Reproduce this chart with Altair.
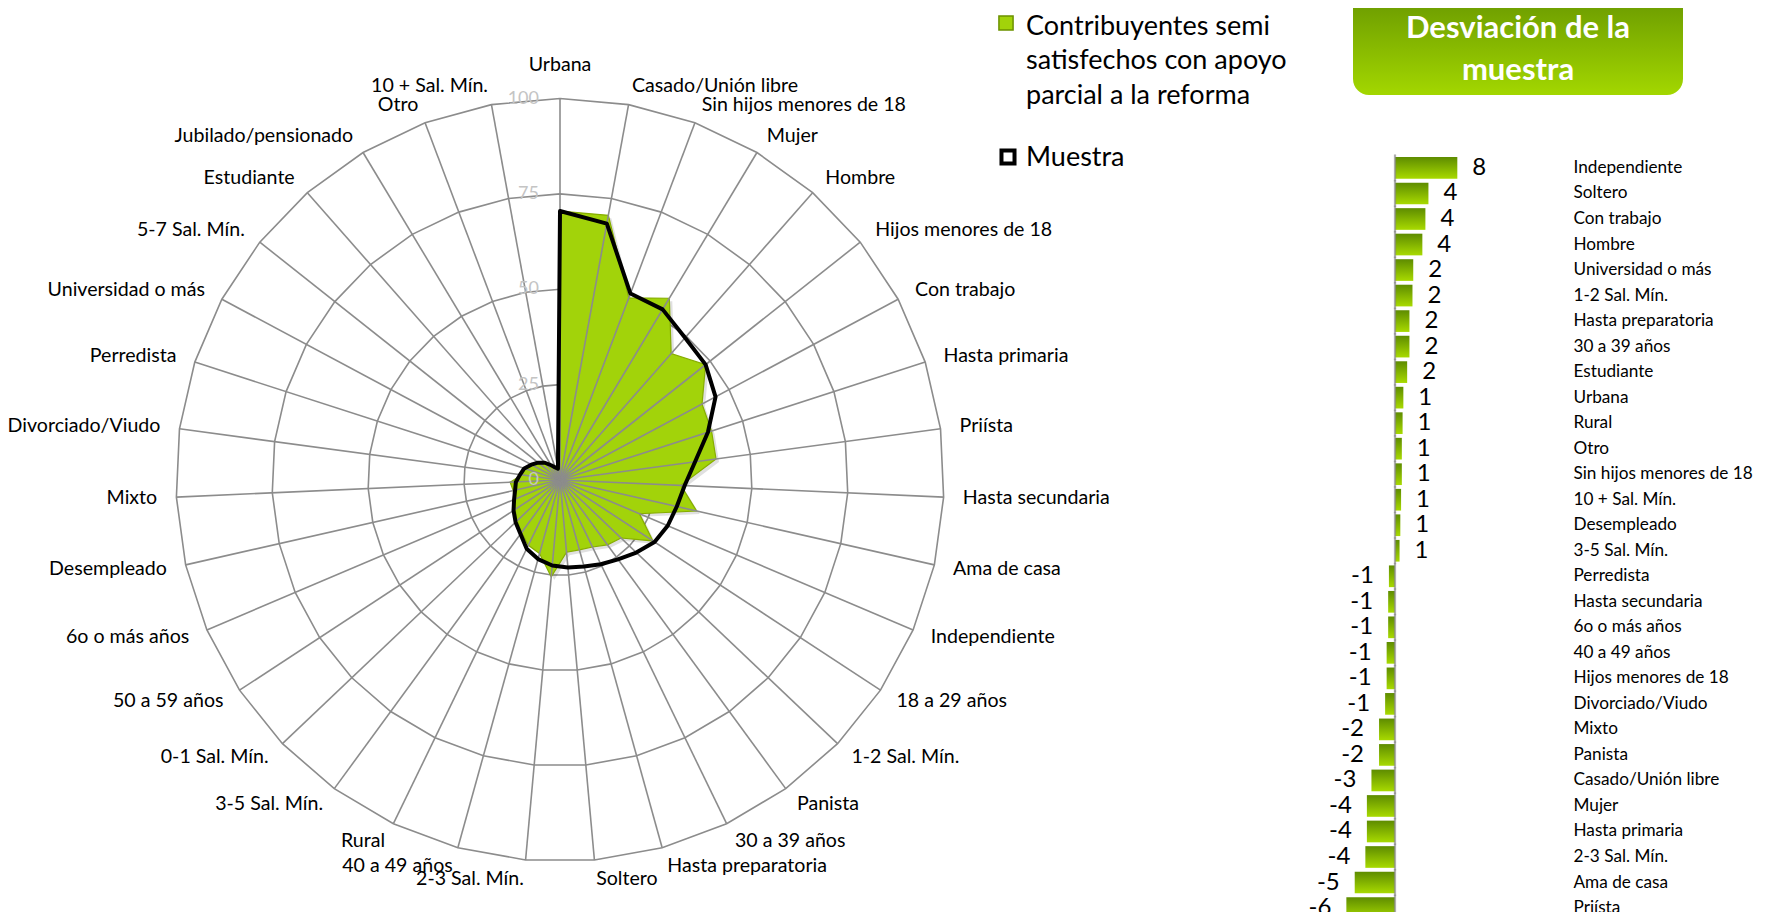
import altair as alt
import pandas as pd

# ---------------- data ----------------
categories = [
    "Urbana", "Casado/Unión libre", "Sin hijos menores de 18", "Mujer", "Hombre",
    "Hijos menores de 18", "Con trabajo", "Hasta primaria", "Priísta", "Hasta secundaria",
    "Ama de casa", "Independiente", "18 a 29 años", "1-2 Sal. Mín.", "Panista",
    "30 a 39 años", "Hasta preparatoria", "Soltero", "2-3 Sal. Mín.", "40 a 49 años",
    "Rural", "3-5 Sal. Mín.", "0-1 Sal. Mín.", "50 a 59 años", "6o o más años",
    "Desempleado", "Mixto", "Divorciado/Viudo", "Perredista", "Universidad o más",
    "5-7 Sal. Mín.", "Estudiante", "Jubilado/pensionado", "Otro", "10 +  Sal. Mín.",
]
semi = [70.5, 70.5, 51, 55.5, 44, 48.5, 42, 41.5, 41, 31.5,
        36.5, 22.5, 29, 22, 21, 19.5, 19, 19, 25.5, 20,
        19, 17, 15.5, 14, 13, 12.5, 13, 10, 9.5, 8.5,
        7, 5.5, 4.5, 3.5, 3]
muestra = [70.5, 68.3, 52.2, 52.1, 49.5, 48.5, 46, 40.5, 35.5, 32.5,
           31.2, 30.5, 29.5, 27.5, 25.7, 24.5, 23.5, 23, 22.5, 21.5,
           20, 17.5, 16, 14.5, 13, 12, 11.5, 10.5, 9.8, 8.5,
           7.3, 6, 4.5, 3.5, 3]
ring_values = [25, 50, 75, 100]
tick_values = [0, 25, 50, 75, 100]

dev_categories = [
    "Independiente", "Soltero", "Con trabajo", "Hombre", "Universidad o más",
    "1-2 Sal. Mín.", "Hasta preparatoria", "30 a 39 años", "Estudiante", "Urbana",
    "Rural", "Otro", "Sin hijos menores de 18", "10 +  Sal. Mín.", "Desempleado",
    "3-5 Sal. Mín.", "Perredista", "Hasta secundaria", "6o o más años", "40 a 49 años",
    "Hijos menores de 18", "Divorciado/Viudo", "Mixto", "Panista", "Casado/Unión libre",
    "Mujer", "Hasta primaria", "2-3 Sal. Mín.", "Ama de casa", "Priísta",
]
dev_values = [8.2, 4.4, 4.0, 3.6, 2.4, 2.3, 1.9, 1.9, 1.6, 1.1,
              1.0, 0.9, 0.9, 0.8, 0.7, 0.6, -0.8, -0.9, -0.9, -1.1,
              -1.1, -1.3, -2.1, -2.1, -3.1, -3.7, -3.7, -3.9, -5.3, -6.4]

legend_lines = ["Contribuyentes semi", "satisfechos con apoyo", "parcial a la reforma"]
legend_muestra = "Muestra"
title_lines = ["Desviación de la", "muestra"]

# ---------------- styles ----------------
FONT = "Lato"
GREEN = "#a2d30a"
GRID = "#8c8c8c"
N = len(categories)

radar = pd.DataFrame({"idx": list(range(N)), "cat": categories, "semi": semi, "muestra": muestra})
rings = pd.DataFrame([{"ring": r, "idx": i} for r in ring_values for i in range(N)])
ticks = pd.DataFrame({"tick": tick_values})
dev = pd.DataFrame({"cat": dev_categories, "dev": dev_values})
one = pd.DataFrame({"k": [0]})

CX, CY = 552, 472
RX, RY = 384, 381.5
xs = alt.Scale(domain=[-100, 100], range=[CX - RX, CX + RX], nice=False, zero=False)
ys = alt.Scale(domain=[-100, 100], range=[CY + RY, CY - RY], nice=False, zero=False)
ANG = f"datum.idx * 2 * PI / {N}"


def rx(field):
    return alt.X(f"{field}:Q", scale=xs, axis=None)


def ry(field):
    return alt.Y(f"{field}:Q", scale=ys, axis=None)


ring_layer = alt.Chart(rings).transform_calculate(a=ANG).transform_calculate(
    px="datum.ring * sin(datum.a)", py="datum.ring * cos(datum.a)"
).mark_line(interpolate="linear-closed", stroke=GRID, strokeWidth=1.6).encode(
    x=rx("px"), y=ry("py"), detail="ring:N", order="idx:Q"
)

spoke_layer = alt.Chart(radar).transform_calculate(a=ANG).transform_calculate(
    sx="100 * sin(datum.a)", sy="100 * cos(datum.a)", z="0"
).mark_rule(stroke=GRID, strokeWidth=1.6).encode(
    x=rx("z"), y=ry("z"), x2="sx:Q", y2="sy:Q"
)

poly_base = alt.Chart(radar).transform_calculate(a=ANG).transform_calculate(
    gx="datum.semi * sin(datum.a)", gy="datum.semi * cos(datum.a)",
    mx="datum.muestra * sin(datum.a)", my="datum.muestra * cos(datum.a)",
)

shadow_layer = poly_base.mark_line(
    interpolate="linear-closed", filled=True, fill="#000000", fillOpacity=0.12,
    strokeOpacity=0, xOffset=3, yOffset=3
).encode(x=rx("gx"), y=ry("gy"), order="idx:Q")

green_layer = poly_base.mark_line(
    interpolate="linear-closed", filled=True, fill=GREEN, stroke="#86ad00", strokeWidth=1.2
).encode(x=rx("gx"), y=ry("gy"), order="idx:Q")

black_layer = poly_base.mark_line(
    interpolate="linear-closed", stroke="#000000", strokeWidth=4, strokeJoin="round"
).encode(x=rx("mx"), y=ry("my"), order="idx:Q")

tick_layer = alt.Chart(ticks).transform_calculate(z="0").mark_text(
    align="right", baseline="middle", dx=-21, font=FONT, fontSize=18, color="#c4c4c4"
).encode(x=rx("z"), y=ry("tick"), text="tick:Q")

lab_base = alt.Chart(radar).transform_calculate(a=ANG).transform_calculate(
    lx="105 * sin(datum.a)", ly="105 * cos(datum.a)", s="sin(datum.a)"
)
lab_common = dict(baseline="middle", font=FONT, fontSize=19.6, color="#000000")
right_labels = lab_base.transform_filter("datum.s > 0.05").mark_text(align="left", **lab_common).encode(
    x=rx("lx"), y=ry("ly"), text="cat:N")
left_labels = lab_base.transform_filter("datum.s < -0.05").mark_text(align="right", **lab_common).encode(
    x=rx("lx"), y=ry("ly"), text="cat:N")
top_labels = lab_base.transform_filter("abs(datum.s) <= 0.05").mark_text(align="center", dy=-14, **lab_common).encode(
    x=rx("lx"), y=ry("ly"), text="cat:N")

# ---------------- deviation bars ----------------
bx = alt.Scale(domain=[-10, 10], range=[1311, 1463], nice=False, zero=False)
by = alt.Scale(domain=dev_categories, range=[147.2, 912.8], paddingInner=0.15, paddingOuter=0.075)

bar_grad = alt.Gradient(
    gradient="linear",
    stops=[alt.GradientStop(color="#5e8c00", offset=0), alt.GradientStop(color="#a8da00", offset=1)],
    x1=0, x2=0, y1=0, y2=1,
)

bars = alt.Chart(dev).mark_bar(color=bar_grad).encode(
    x=alt.X("dev:Q", scale=bx, axis=None, stack=None),
    x2=alt.datum(0),
    y=alt.Y("cat:N", scale=by, sort=None, title=None,
            axis=alt.Axis(orient="right", offset=-185, ticks=False, domain=False, grid=False,
                          labelFont=FONT, labelFontSize=17.2, labelColor="#000000",
                          labelPadding=0, labelLimit=400, labelAlign="left")),
)

axis_line = alt.Chart(dev).mark_tick(color=GRID, thickness=2.2, size=27).encode(
    x=alt.X("z:Q", scale=bx, axis=None),
    y=alt.Y("cat:N", scale=by, sort=None, axis=None),
).transform_calculate(z="0")

val_base = alt.Chart(dev).transform_calculate(lbl="'' + round(datum.dev)")
val_common = dict(baseline="middle", font=FONT, fontSize=24, color="#000000")
pos_vals = val_base.transform_filter("datum.dev > 0").mark_text(align="left", dx=15, **val_common).encode(
    x=alt.X("dev:Q", scale=bx, axis=None),
    y=alt.Y("cat:N", scale=by, sort=None, axis=None),
    text="lbl:N",
)
neg_vals = val_base.transform_filter("datum.dev < 0").mark_text(align="right", dx=-15, **val_common).encode(
    x=alt.X("dev:Q", scale=bx, axis=None),
    y=alt.Y("cat:N", scale=by, sort=None, axis=None),
    text="lbl:N",
)

# ---------------- title box & legend ----------------
title_grad = alt.Gradient(
    gradient="linear",
    stops=[alt.GradientStop(color="#5f8e00", offset=0), alt.GradientStop(color="#a3d700", offset=1)],
    x1=0, x2=0, y1=0, y2=1,
)
title_box = alt.Chart(one).mark_rect(fill=title_grad, cornerRadius=16).encode(
    x=alt.value(1345), x2=alt.value(1675), y=alt.value(-30), y2=alt.value(87)
)
title_text = alt.Chart(one).mark_text(
    text=title_lines, align="center", baseline="alphabetic", lineHeight=42,
    font=FONT, fontSize=31, fontWeight="bold", color="#ffffff"
).encode(x=alt.value(1510), y=alt.value(30))

legend_text = alt.Chart(one).mark_text(
    text=legend_lines, align="left", baseline="alphabetic", lineHeight=34.5,
    font=FONT, fontSize=27, color="#000000"
).encode(x=alt.value(1018), y=alt.value(26.5))
legend_text2 = alt.Chart(one).mark_text(
    text=legend_muestra, align="left", baseline="alphabetic",
    font=FONT, fontSize=27, color="#000000"
).encode(x=alt.value(1018), y=alt.value(158))
legend_green = alt.Chart(one).mark_square(size=200, fill=GREEN, stroke="#6c9100", strokeWidth=1.5, opacity=1).encode(
    x=alt.value(998), y=alt.value(15))
legend_black = alt.Chart(one).mark_square(size=170, fill="#ffffff", stroke="#000000", strokeWidth=4, opacity=1).encode(
    x=alt.value(1000), y=alt.value(149))

chart = alt.layer(
    ring_layer, shadow_layer, green_layer, spoke_layer, black_layer, tick_layer,
    right_labels, left_labels, top_labels,
    bars, axis_line, pos_vals, neg_vals,
    title_box, title_text, legend_text, legend_text2, legend_green, legend_black,
).resolve_scale(x="independent", y="independent").properties(
    width=1750, height=904, autosize=alt.AutoSizeParams(type="none"), padding=0
).configure_view(stroke=None)

chart.save("out.html", embed_options={"renderer": "svg", "actions": False})
